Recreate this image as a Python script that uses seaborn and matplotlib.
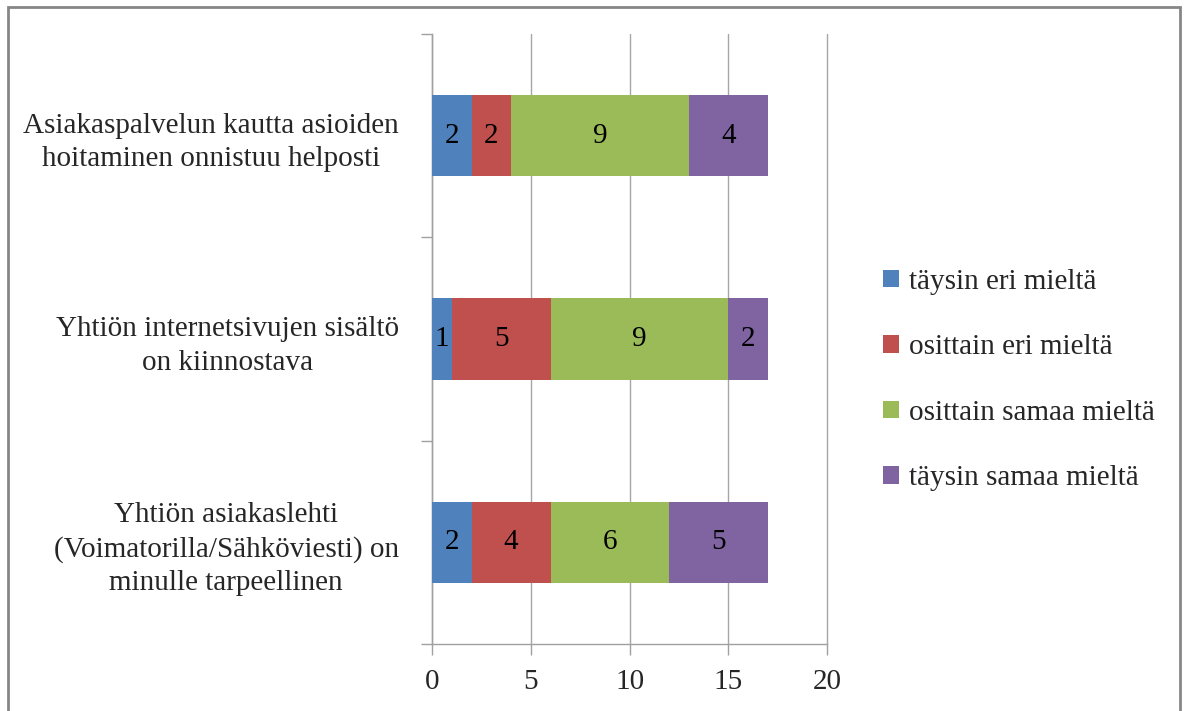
import matplotlib
matplotlib.use("Agg")
import matplotlib.pyplot as plt
import matplotlib.patches as mpatches
import numpy as np
import pandas as pd
import seaborn as sns

categories = [
    "Asiakaspalvelun kautta asioiden\nhoitaminen onnistuu helposti",
    "Yhtiön internetsivujen sisältö\non kiinnostava",
    "Yhtiön asiakaslehti\n(Voimatorilla/Sähköviesti) on\nminulle tarpeellinen",
]
series_names = ["täysin eri mieltä", "osittain eri mieltä", "osittain samaa mieltä", "täysin samaa mieltä"]
taysin_eri = [2, 1, 2]
osittain_eri = [2, 5, 4]
osittain_samaa = [9, 9, 6]
taysin_samaa = [4, 2, 5]
colors = ["#4F81BD", "#C0504D", "#9BBB59", "#8064A2"]
x_ticks = [0, 5, 10, 15, 20]

sns.set_theme(style="white")
plt.rcParams["font.family"] = ["Liberation Serif", "DejaVu Serif"]

FS = 21
values = [taysin_eri, osittain_eri, osittain_samaa, taysin_samaa]
cum = np.cumsum(np.array(values), axis=0)

fig = plt.figure(figsize=(11.86, 7.11), dpi=100)
ax = fig.add_axes([432/1186, 1-644/711, (827-432)/1186, (644-34)/711])

# draw stacked bars by overlaying cumulative totals (longest first)
for i in range(3, -1, -1):
    df = pd.DataFrame({"cat": categories, "val": cum[i]})
    sns.barplot(data=df, y="cat", x="val", orient="h", color=colors[i],
                saturation=1, width=0.4, linewidth=0, ax=ax, zorder=3)

# segment labels
for i in range(4):
    for j in range(3):
        v = values[i][j]
        ax.text(cum[i][j] - v/2, j, str(v), ha="center", va="center",
                fontsize=FS, color="black", zorder=5)

ax.set_xlim(0, 20)
ax.set_ylim(2.5, -0.5)
ax.set_xticks(x_ticks)
ax.set_xticklabels([str(t) for t in x_ticks], fontsize=FS)
ax.set_xlabel("")
ax.set_ylabel("")

# y: boundary tick marks, labels on minor ticks
ax.set_yticks([-0.5, 0.5, 1.5, 2.5])
ax.set_yticklabels([])
ax.set_yticks([0, 1, 2], minor=True)
ax.set_yticklabels(categories, minor=True, fontsize=FS, multialignment="center",
                   linespacing=1.38)
ax.tick_params(axis="y", which="minor", length=0, pad=24)
ax.tick_params(axis="y", which="major", length=8, width=1, color="#A0A0A0", direction="out", left=True)
ax.tick_params(axis="x", length=8, width=1, color="#A0A0A0", direction="out", bottom=True, pad=10)

ax.grid(axis="x", color="#A6A6A6", linewidth=1, zorder=0)
ax.grid(axis="y", visible=False)
ax.set_axisbelow(True)
for gl in ax.get_xgridlines():
    gl.set_clip_on(False)
for s in ["top", "right"]:
    ax.spines[s].set_visible(False)
for s in ["left", "bottom"]:
    ax.spines[s].set_color("#A0A0A0")
    ax.spines[s].set_linewidth(1)

handles = [mpatches.Patch(facecolor=c, edgecolor="none", label=n) for c, n in zip(colors, series_names)]
leg = fig.legend(handles=handles, loc="center left", bbox_to_anchor=(883/1186, 1-380/711),
                 frameon=False, fontsize=FS, handlelength=0.55, handleheight=0.55,
                 handletextpad=0.35, labelspacing=1.35, borderpad=0, borderaxespad=0)

# outer border
border = mpatches.Rectangle((8/1186, -0.05), (1180-8)/1186, 1.05 - 7/711,
                            transform=fig.transFigure, fill=False,
                            edgecolor="#868686", linewidth=2, clip_on=False)
fig.patches.append(border)

fig.savefig("out.png", dpi=100, facecolor="white")
